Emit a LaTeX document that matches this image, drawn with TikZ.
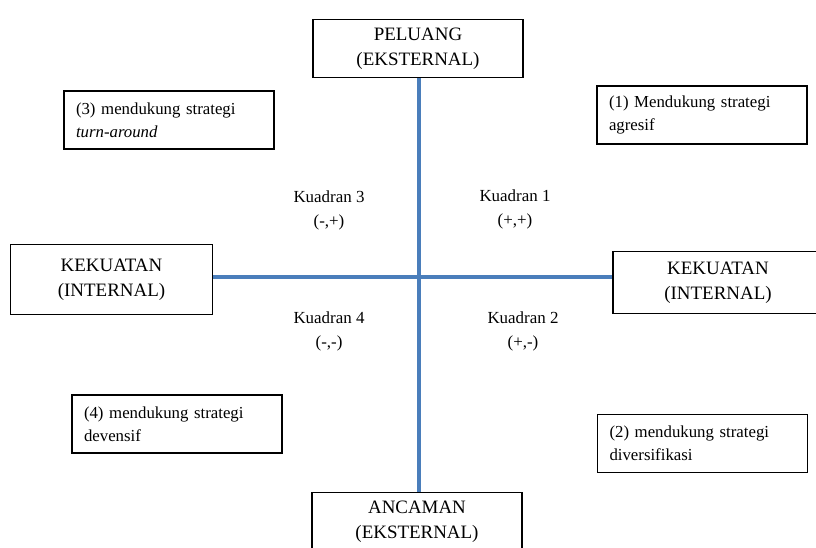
\documentclass[tikz,border=0pt]{standalone}
\usepackage{fontspec}
\setmainfont{Liberation Serif}
\usetikzlibrary{positioning}
\definecolor{axisblue}{RGB}{74,126,187}

\begin{document}
\begin{tikzpicture}[x=0.75pt,y=-0.75pt]
		\tikzstyle{every node}=[font=\fontsize{12.7pt}{18pt}\selectfont]
		\tikzstyle{titlebox}=[draw, line width=0.8pt, align=center, minimum width=157.5pt, font=\fontsize{14.2pt}{18.7pt}\selectfont]
		\tikzstyle{stratbox}=[draw, line width=0.8pt, align=left, text width=139.5pt, inner xsep=9pt, minimum height=43.5pt, font=\fontsize{12.6pt}{17.2pt}\selectfont]
		\tikzstyle{quadlabel}=[align=center, inner sep=0pt]
		\tikzstyle{axis}=[draw=axisblue, line width=2.3pt]
		
		\useasboundingbox (0,0) rectangle (816,548);
		
		\node[titlebox, minimum height=44pt] (peluang) at (418,48.5) {PELUANG\\(EKSTERNAL)};
		\node[titlebox, minimum height=44pt] (ancaman) at (417,521.5) {ANCAMAN\\(EKSTERNAL)};
		\node[titlebox, minimum width=152pt, minimum height=52pt] (kiri) at (111.5,279.5) {KEKUATAN\\(INTERNAL)};
		\node[titlebox, minimum height=46pt] (kanan) at (718,282.5) {KEKUATAN\\(INTERNAL)};
		
		\node[stratbox] (s3) at (169,120) {(3) mendukung strategi\\\textit{turn-around}};
		\node[stratbox] (s1) at (702,115) {(1) Mendukung strategi\\agresif};
		\node[stratbox] (s4) at (177,424) {(4) mendukung strategi\\devensif};
		\node[stratbox] (s2) at (702.5,443.5) {(2) mendukung strategi\\diversifikasi};
		
		\node[quadlabel] (k3) at (329,210) {Kuadran 3\\(-,+)};
		\node[quadlabel] (k1) at (515,209) {Kuadran 1\\(+,+)};
		\node[quadlabel] (k4) at (329,331) {Kuadran 4\\(-,-)};
		\node[quadlabel] (k2) at (523,331) {Kuadran 2\\(+,-)};
		
		\coordinate (pusat) at (419,277);
		\draw[axis] (peluang.south -| pusat) -- (ancaman.north -| pusat);
		\draw[axis] (kiri.east |- pusat) -- (kanan.west |- pusat);
		
	\end{tikzpicture}
\end{document}
